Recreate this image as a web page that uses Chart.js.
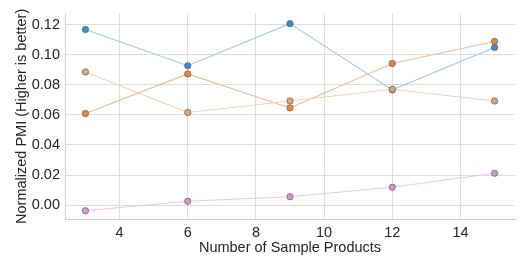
<!DOCTYPE html>
<html>
<head>
<meta charset="utf-8">
<script src="https://cdn.jsdelivr.net/npm/chart.js@4/dist/chart.umd.min.js"></script>
<style>
html,body{margin:0;padding:0;background:#fff;}
#wrap{width:523px;height:262px;position:relative;}
</style>
</head>
<body>
<div id="wrap"><canvas id="c" width="523" height="262"></canvas></div>
<script>
const sampleCounts = [3, 6, 9, 12, 15];
const seriesBlue = [0.1167, 0.0926, 0.1206, 0.0766, 0.1048];
const seriesOrange = [0.0609, 0.0872, 0.0646, 0.0941, 0.1087];
const seriesTan = [0.0885, 0.0616, 0.0692, 0.0770, 0.0692];
const seriesPink = [-0.0037, 0.0026, 0.0056, 0.0119, 0.0212];
const xTicks = [4, 6, 8, 10, 12, 14];
const yTicks = [0.00, 0.02, 0.04, 0.06, 0.08, 0.10, 0.12];

function pts(arr){ return sampleCounts.map((x,i)=>({x:x,y:arr[i]})); }
function ds(arr, line, marker){
  return {data: pts(arr), borderColor: line, backgroundColor: marker,
    pointBackgroundColor: marker, pointBorderColor: 'rgba(80,80,80,0.8)', pointBorderWidth: 0.7,
    pointRadius: 3.2, borderWidth: 1.1, tension: 0, showLine: true, fill: false};
}
const font = {family: '"Liberation Sans", Arial, sans-serif', size: 14.5};
new Chart(document.getElementById('c'), {
  type: 'scatter',
  data: { datasets: [
    ds(seriesPink, '#efc6e6', '#d496c9'),
    ds(seriesTan, '#f4d2b8', '#d8a780'),
    ds(seriesOrange, '#f6bb8f', '#e8853f'),
    ds(seriesBlue, '#a3cde6', '#3f8fc6')
  ]},
  options: {
    responsive: false, animation: false, devicePixelRatio: 1,
    layout: {padding: {left: 0, top: 9, right: 8, bottom: 0}},
    plugins: {legend: {display: false}, tooltip: {enabled: false}},
    scales: {
      x: {type: 'linear', min: 2.4, max: 15.6,
        afterBuildTicks: s => { s.ticks = xTicks.map(v => ({value: v})); },
        afterFit: s => { s.height = 43; },
        grid: {color: '#dedede', lineWidth: 1, drawTicks: false},
        border: {color: '#d0d0d0', width: 1},
        ticks: {color: '#262626', font: font, padding: 5, maxRotation: 0, callback: v => String(v)},
        title: {display: true, text: 'Number of Sample Products', color: '#262626', font: font, padding: {top: 0, bottom: 5}}
      },
      y: {type: 'linear', min: -0.0092, max: 0.1272,
        afterBuildTicks: s => { s.ticks = yTicks.map(v => ({value: v})); },
        afterFit: s => { s.width = 65; },
        grid: {color: '#dedede', lineWidth: 1, drawTicks: false},
        border: {color: '#d0d0d0', width: 1},
        ticks: {color: '#262626', font: font, padding: 5, callback: v => Number(v).toFixed(2)},
        title: {display: true, text: 'Normalized PMI (Higher is better)', color: '#262626', font: font, padding: {top: 13, bottom: 0}}
      }
    }
  }
});
</script>
</body>
</html>
